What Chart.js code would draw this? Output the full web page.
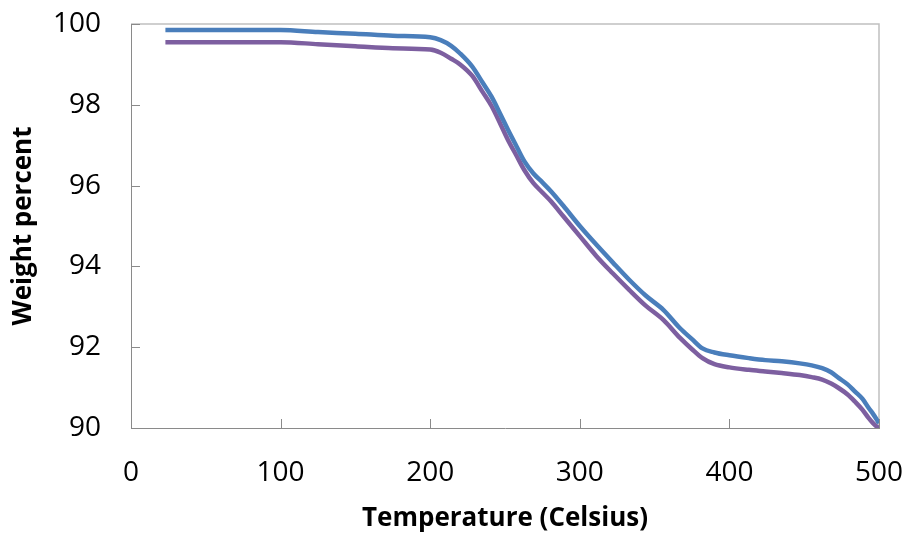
<!DOCTYPE html>
<html>
<head>
<meta charset="utf-8">
<title>Weight percent vs Temperature</title>
<script src="https://cdn.jsdelivr.net/npm/chart.js@4.4.1/dist/chart.umd.min.js"></script>
<style>
    html, body { margin: 0; padding: 0; background: #ffffff; }
    #chartWrap { width: 908px; height: 535px; }
</style>
</head>
<body>
<div id="chartWrap"><canvas id="tgaChart"></canvas></div>
<script>
// Temperature readings (Celsius)
const temperatures = [23, 50, 100, 125, 150, 175, 200, 207, 214, 220, 228, 235, 241, 247, 252, 258, 263, 269, 275, 281, 289, 300, 311, 322, 333, 344, 356, 367, 375, 382, 390, 400, 413, 424, 435, 447, 455, 462, 468, 473, 479, 484, 489, 493, 496, 499, 500];

// Weight percent, upper (blue) curve
const weightBlue = [99.85, 99.85, 99.85, 99.80, 99.76, 99.71, 99.67, 99.60, 99.46, 99.27, 98.95, 98.55, 98.20, 97.76, 97.38, 96.95, 96.60, 96.30, 96.08, 95.85, 95.50, 95.00, 94.54, 94.10, 93.67, 93.28, 92.92, 92.47, 92.20, 91.97, 91.87, 91.80, 91.73, 91.68, 91.65, 91.60, 91.55, 91.48, 91.38, 91.24, 91.08, 90.90, 90.72, 90.50, 90.35, 90.18, 90.12];

// Weight percent, lower (purple) curve
const weightPurple = [99.55, 99.55, 99.55, 99.50, 99.45, 99.40, 99.37, 99.29, 99.14, 99.00, 98.72, 98.32, 97.97, 97.52, 97.13, 96.72, 96.38, 96.06, 95.83, 95.60, 95.24, 94.75, 94.26, 93.83, 93.42, 93.03, 92.67, 92.23, 91.95, 91.73, 91.58, 91.50, 91.44, 91.40, 91.36, 91.31, 91.26, 91.20, 91.10, 90.99, 90.83, 90.65, 90.45, 90.25, 90.12, 90.02, 90.00];

const xTicks = [0, 100, 200, 300, 400, 500];
const yTicks = [90, 92, 94, 96, 98, 100];

(function () {
    "use strict";

    const FONT = "'Open Sans', 'Noto Sans', sans-serif";

    function toPoints(values) {
        return temperatures.map((t, i) => ({ x: t, y: values[i] }));
    }

    // keep the plot area fixed, ignore label overhang padding
    function noOverhang(scale) {
        scale.paddingTop = 0;
        scale.paddingBottom = 0;
        scale.paddingLeft = 0;
        scale.paddingRight = 0;
    }

    // light grey frame on top/right plus short inward tick marks
    const frameAndTicks = {
        id: "frameAndTicks",
        beforeDatasetsDraw(chart) {
            const { ctx, chartArea } = chart;
            const xs = chart.scales.x;
            const ys = chart.scales.y;
            ctx.save();
            ctx.strokeStyle = "#c0c0c0";
            ctx.lineWidth = 1.5;
            ctx.beginPath();
            ctx.moveTo(chartArea.left, chartArea.top);
            ctx.lineTo(chartArea.right, chartArea.top);
            ctx.lineTo(chartArea.right, chartArea.bottom);
            ctx.stroke();

            ctx.strokeStyle = "#8a8a8a";
            ctx.lineWidth = 1;
            ctx.beginPath();
            xTicks.forEach((v) => {
                const px = Math.round(xs.getPixelForValue(v)) + 0.5;
                ctx.moveTo(px, chartArea.bottom);
                ctx.lineTo(px, chartArea.bottom - 9);
            });
            yTicks.forEach((v) => {
                const py = Math.round(ys.getPixelForValue(v)) + 0.5;
                ctx.moveTo(chartArea.left, py);
                ctx.lineTo(chartArea.left + 9, py);
            });
            ctx.stroke();
            ctx.restore();
        },
    };

    const ctx = document.getElementById("tgaChart").getContext("2d");
    window.tgaChart = new Chart(ctx, {
        type: "line",
        data: {
            datasets: [
                {
                    label: "Sample A",
                    data: toPoints(weightBlue),
                    borderColor: "#4a7ebb",
                    borderWidth: 4.5,
                    pointRadius: 0,
                    cubicInterpolationMode: "monotone",
                    fill: false,
                },
                {
                    label: "Sample B",
                    data: toPoints(weightPurple),
                    borderColor: "#7d5fa0",
                    borderWidth: 4.5,
                    pointRadius: 0,
                    cubicInterpolationMode: "monotone",
                    fill: false,
                },
            ],
        },
        options: {
            responsive: true,
            maintainAspectRatio: false,
            animation: false,
            layout: { padding: { top: 24, right: 29, left: 0, bottom: 0 } },
            plugins: {
                legend: { display: false },
                tooltip: { enabled: false },
            },
            scales: {
                x: {
                    type: "linear",
                    min: 0,
                    max: 500,
                    afterBuildTicks: (scale) => {
                        scale.ticks = xTicks.map((v) => ({ value: v }));
                    },
                    afterFit: (scale) => {
                        scale.height = 107;
                        noOverhang(scale);
                    },
                    grid: { display: false, drawTicks: false },
                    border: { display: true, color: "#8a8a8a", width: 1 },
                    ticks: {
                        color: "#000000",
                        padding: 28,
                        font: { family: FONT, size: 28 },
                    },
                    title: {
                        display: true,
                        text: "Temperature (Celsius)",
                        color: "#000000",
                        padding: { top: 0, bottom: 1 },
                        font: { family: FONT, size: 26, weight: "bold" },
                    },
                },
                y: {
                    min: 90,
                    max: 100,
                    afterBuildTicks: (scale) => {
                        scale.ticks = yTicks.map((v) => ({ value: v }));
                    },
                    afterFit: (scale) => {
                        scale.width = 131;
                        noOverhang(scale);
                    },
                    grid: { display: false, drawTicks: false },
                    border: { display: true, color: "#8a8a8a", width: 1 },
                    ticks: {
                        color: "#000000",
                        padding: 30,
                        font: { family: FONT, size: 28 },
                    },
                    title: {
                        display: true,
                        text: "Weight percent",
                        color: "#000000",
                        padding: { top: 8, bottom: 0 },
                        font: { family: FONT, size: 26, weight: "bold" },
                    },
                },
            },
        },
        plugins: [frameAndTicks],
    });
})();
</script>
</body>
</html>
